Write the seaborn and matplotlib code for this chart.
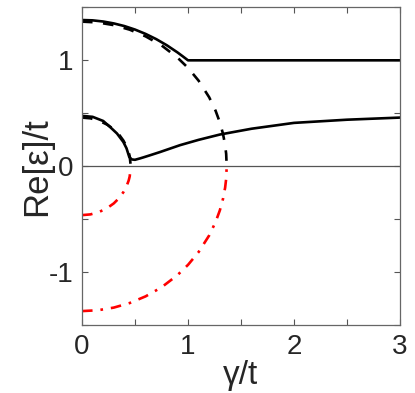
import seaborn as sns
import matplotlib.pyplot as plt
import numpy as np

# upper branch (solid)
g_up = [0, 0.1, 0.2, 0.3, 0.4, 0.5, 0.6, 0.7, 0.8, 0.9, 0.95, 1.0, 3.0]
e_up = [1.38, 1.377, 1.366, 1.348, 1.323, 1.29, 1.249, 1.2, 1.142, 1.075, 1.038, 1.0, 1.0]

# lower branch (solid)
g_low = [0, 0.1, 0.2, 0.264, 0.33, 0.39, 0.42, 0.446, 0.47, 0.5, 0.547, 0.58, 0.64,
         0.736, 0.925, 1.1, 1.3, 1.6, 2.0, 2.5, 3.0]
e_low = [0.476, 0.467, 0.428, 0.372, 0.31, 0.23, 0.17, 0.088, 0.065, 0.062, 0.075, 0.085, 0.104,
         0.135, 0.2, 0.25, 0.30, 0.355, 0.41, 0.44, 0.46]

# outer arc (dashed above zero, red dash-dot below)
g_big = [0, 0.15, 0.3, 0.45, 0.6, 0.75, 0.9, 1.0, 1.1, 1.2, 1.26, 1.3, 1.33, 1.35, 1.36, 1.365]
e_big_pos = [1.365, 1.357, 1.332, 1.289, 1.226, 1.141, 1.026, 0.929, 0.808, 0.651, 0.525,
             0.416, 0.307, 0.202, 0.117, 0.0]
e_big_neg = [-1.365, -1.357, -1.332, -1.289, -1.226, -1.141, -1.026, -0.929, -0.808, -0.651,
             -0.525, -0.416, -0.307, -0.202, -0.117, 0.0]

# inner arc
g_small = [0, 0.08, 0.16, 0.24, 0.3, 0.35, 0.39, 0.42, 0.44, 0.45, 0.46]
e_small_pos = [0.46, 0.453, 0.431, 0.392, 0.349, 0.299, 0.244, 0.188, 0.134, 0.095, 0.0]
e_small_neg = [-0.46, -0.453, -0.431, -0.392, -0.349, -0.299, -0.244, -0.188, -0.134, -0.095, 0.0]

sns.set_style("ticks")
plt.rcParams['font.family'] = ['Liberation Sans', 'DejaVu Sans']

fig = plt.figure(figsize=(4.15, 3.93), dpi=100)
ax = fig.add_axes([0.1976, 0.172, 0.7663, 0.8094])

ax.axhline(0, color='#555555', lw=0.9, zorder=1)

lw = 1.9
dashdot = (0, (4, 3, 1, 3))
dash = (0, (4, 4))
sns.lineplot(x=g_big, y=e_big_neg, ax=ax, color='red', lw=lw, sort=False, estimator=None,
             linestyle=dashdot)
sns.lineplot(x=g_small, y=e_small_neg, ax=ax, color='red', lw=lw, sort=False, estimator=None,
             linestyle=dashdot)
sns.lineplot(x=g_big, y=e_big_pos, ax=ax, color='black', lw=lw, sort=False, estimator=None,
             linestyle=dash)
sns.lineplot(x=g_small, y=e_small_pos, ax=ax, color='black', lw=lw, sort=False, estimator=None,
             linestyle=dash)
sns.lineplot(x=g_up, y=e_up, ax=ax, color='black', lw=lw, sort=False, estimator=None)
sns.lineplot(x=g_low, y=e_low, ax=ax, color='black', lw=lw, sort=False, estimator=None)

ax.set_xlim(0, 3)
ax.set_ylim(-1.5, 1.5)
ax.set_xticks(np.arange(0, 3.01, 0.5))
ax.set_xticklabels(['0', '', '1', '', '2', '', '3'])
ax.set_yticks(np.arange(-1.5, 1.51, 0.5))
ax.set_yticklabels(['', '-1', '', '0', '', '1', ''])
ax.tick_params(direction='in', length=4, width=0.8, color='#555555', labelsize=20,
               top=True, right=True, pad=6, labelcolor='#262626')
for s in ax.spines.values():
    s.set_color('#666666')
    s.set_linewidth(0.9)

ax.set_xlabel('γ/t', fontsize=24, color='#262626', labelpad=0)
ax.set_ylabel('Re[ε]/t', fontsize=25, color='#262626', labelpad=-3)

fig.savefig('out.png', dpi=100)
